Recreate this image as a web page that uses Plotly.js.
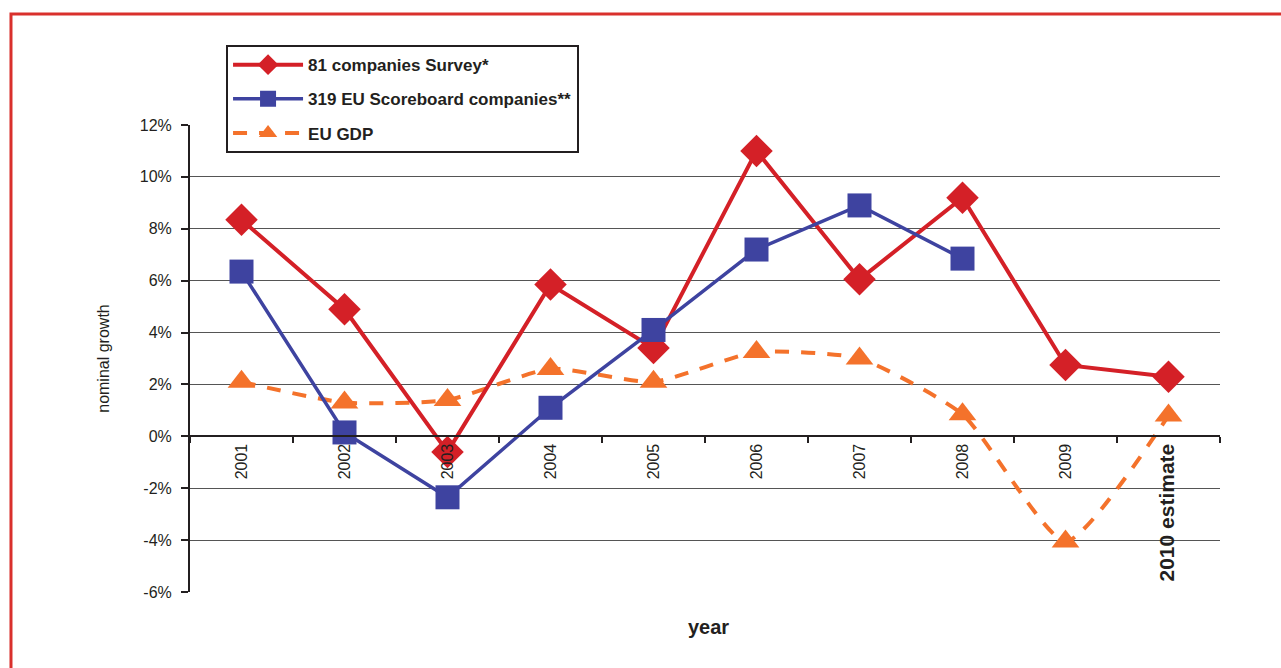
<!DOCTYPE html>
<html>
<head>
<meta charset="utf-8">
<script src="https://cdn.plot.ly/plotly-3.0.1.min.js"></script>
<style>
html,body{margin:0;padding:0;background:#fff;}
#chart{width:1281px;height:668px;}
</style>
</head>
<body>
<div id="chart"></div>
<script>
// ---- data ----
var years = ["2001","2002","2003","2004","2005","2006","2007","2008","2009","2010 estimate"];
var yearLabels = ["2001","2002","2003","2004","2005","2006","2007","2008","2009","<b><span style=\"font-size:21px\">2010 estimate</span></b>"];
var survey81 = [8.35, 4.9, -0.6, 5.85, 3.4, 11.0, 6.05, 9.2, 2.75, 2.3];
var scoreboard319 = [6.35, 0.15, -2.35, 1.1, 4.1, 7.2, 8.9, 6.85, null, null];
var euGdp = [2.1, 1.3, 1.4, 2.6, 2.1, 3.25, 3.0, 0.85, -4.05, 0.8];
var yTickVals = [-6,-4,-2,0,2,4,6,8,10,12];
var yTickText = ["-6%","-4%","-2%","0%","2%","4%","6%","8%","10%","12%"];

var FONT = "'Liberation Sans', Arial, sans-serif";
var TXT = "#231f20";

var traces = [
  {
    x: years, y: euGdp, name: "EU GDP", type: "scatter", mode: "lines+markers",
    line: {color: "#f4722b", width: 4, dash: "14px,12px", shape: "spline", smoothing: 0.55},
    marker: {symbol: "triangle-up", size: 24, color: "#f4722b"},
    legendrank: 3, legendgroup: "c"
  },
  {
    x: years, y: survey81, name: "81 companies Survey*", type: "scatter", mode: "lines+markers",
    line: {color: "#d42027", width: 4},
    marker: {symbol: "diamond", size: 25, color: "#d42027"},
    legendrank: 1, legendgroup: "a"
  },
  {
    x: years, y: scoreboard319, name: "319 EU Scoreboard companies**", type: "scatter", mode: "lines+markers",
    line: {color: "#3e43a0", width: 3.5},
    marker: {symbol: "square", size: 24, color: "#3e43a0"},
    legendrank: 2, legendgroup: "b"
  }
];

var layout = {
  width: 1281, height: 668,
  paper_bgcolor: "#ffffff", plot_bgcolor: "rgba(0,0,0,0)",
  margin: {l: 190, r: 61, t: 125, b: 76},
  font: {family: FONT, color: TXT, size: 15},
  showlegend: true,
  legend: {
    x: 0.035, y: 1.171, xanchor: "left", yanchor: "top",
    bgcolor: "#ffffff", bordercolor: "#231f20", borderwidth: 2,
    font: {family: FONT, size: 17, color: TXT, weight: "bold"},
    itemwidth: 70, tracegroupgap: 9
  },
  xaxis: {
    type: "category", categoryorder: "array", categoryarray: years,
    range: [-0.5, 9.5],
    anchor: "free", position: 1/3,
    tickvals: years, ticktext: yearLabels,
    tickangle: -90, tickson: "boundaries",
    ticks: "outside", ticklen: 6, tickwidth: 2, tickcolor: "#231f20",
    showline: true, linecolor: "#231f20", linewidth: 2,
    showgrid: false, zeroline: false,
    tickfont: {family: FONT, size: 16, color: TXT},
    fixedrange: true
  },
  yaxis: {
    range: [-6, 12], tickvals: yTickVals, ticktext: yTickText,
    ticks: "outside", ticklen: 7, tickwidth: 2, tickcolor: "#231f20",
    ticklabelstandoff: 6,
    showline: true, linecolor: "#231f20", linewidth: 2,
    showgrid: true, gridcolor: "#555555", gridwidth: 1,
    zeroline: false,
    tickfont: {family: FONT, size: 16, color: TXT},
    title: {text: "nominal growth", font: {family: FONT, size: 16, color: TXT}, standoff: 26},
    fixedrange: true
  },
  annotations: [
    {
      text: "<b>year</b>", xref: "paper", yref: "paper", x: 0.503, y: -0.075,
      xanchor: "center", yanchor: "middle", showarrow: false,
      font: {family: FONT, size: 20, color: TXT}
    }
  ],
  shapes: [
    {
      type: "rect", xref: "paper", yref: "paper",
      x0: -0.1738, x1: 1.08, y0: -0.2, y1: 1.2377,
      line: {color: "#d9302c", width: 3}, fillcolor: "rgba(0,0,0,0)", layer: "below"
    }
  ]
};

Plotly.newPlot("chart", traces, layout, {displayModeBar: false, staticPlot: true});
</script>
</body>
</html>
